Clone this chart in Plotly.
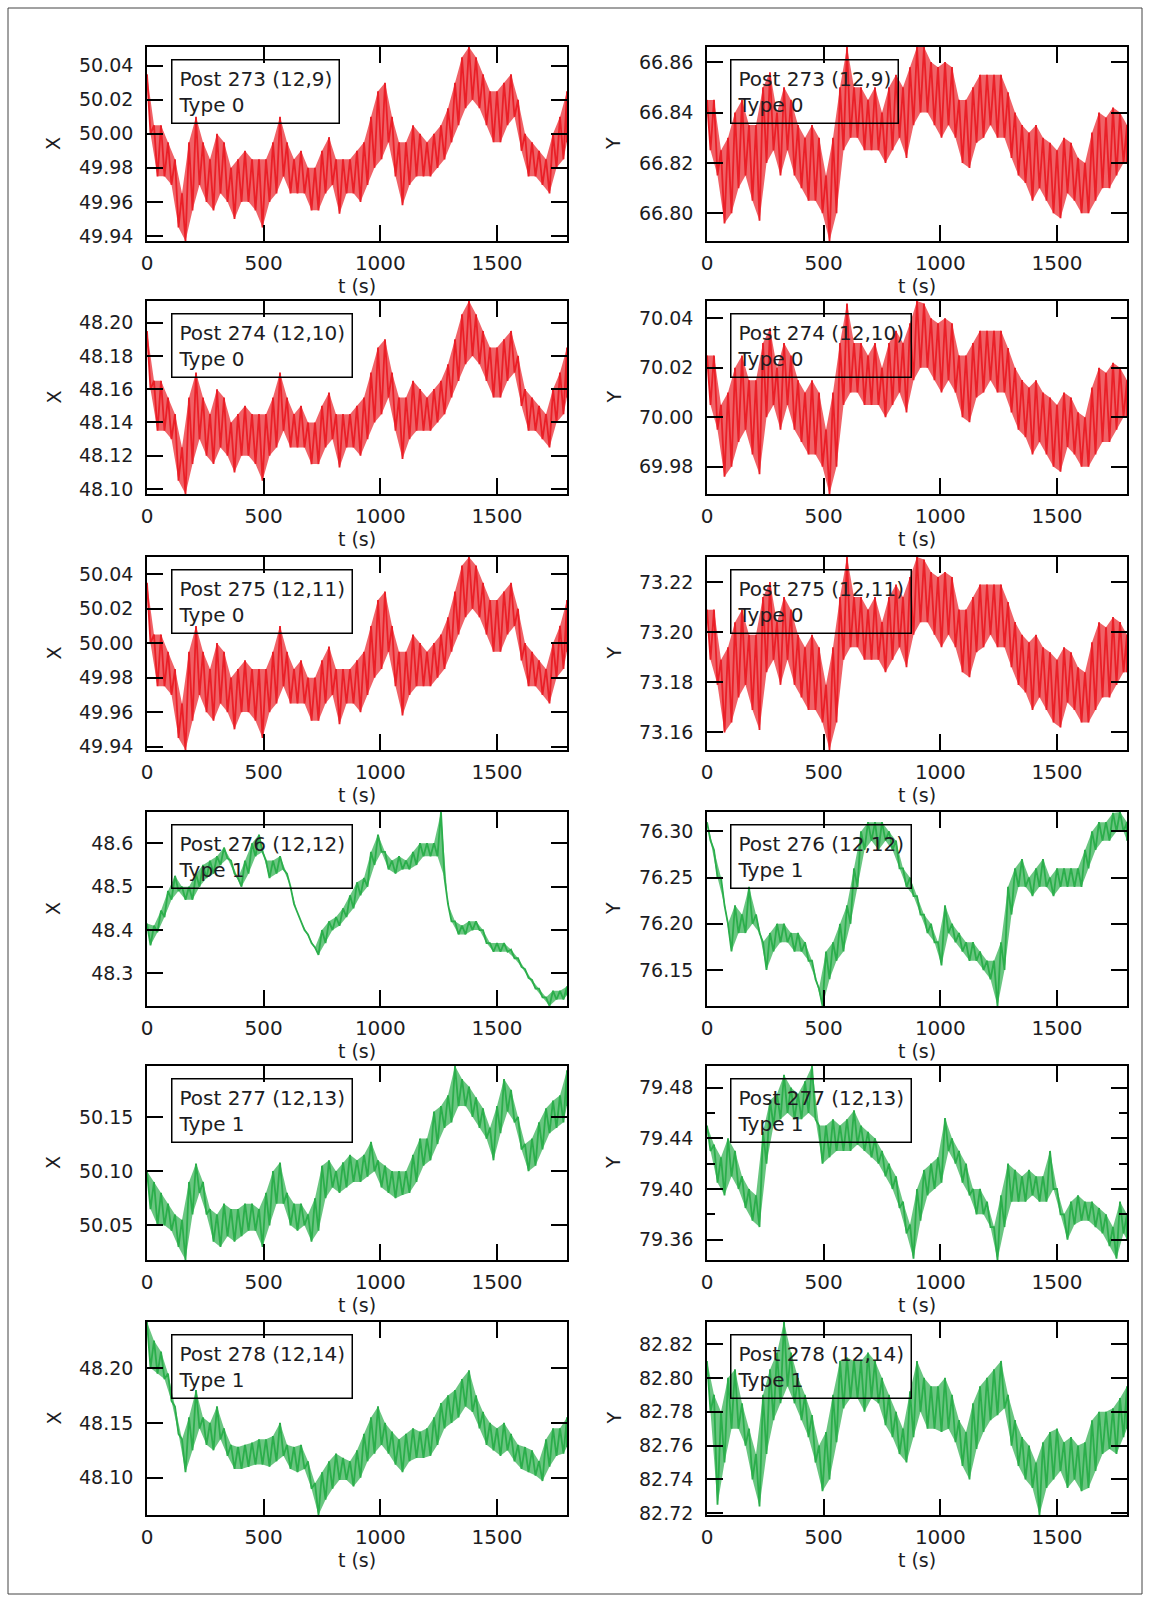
import plotly.graph_objects as go

W, H = 1150, 1602

# Time grid (s). At every grid time the trace's local high is recorded,
# and the local low half a step later.
t_grid = list(range(0, 1801, 30))
x_ticks = [0, 500, 1000, 1500]

# ---- Type 0 posts: X ----
x273_hi = [50.035, 50.005, 50.005, 49.995, 49.985, 49.965, 49.995, 50.010, 49.995, 49.985,
           50.000, 49.995, 49.980, 49.985, 49.990, 49.985, 49.985, 49.985, 49.995, 50.010,
           49.995, 49.985, 49.990, 49.980, 49.980, 49.990, 49.998, 49.985, 49.985, 49.985,
           49.990, 49.995, 50.010, 50.025, 50.030, 50.010, 49.995, 49.995, 50.005, 50.000,
           49.995, 50.000, 50.005, 50.015, 50.030, 50.045, 50.051, 50.045, 50.035, 50.025,
           50.025, 50.030, 50.035, 50.020, 50.000, 49.995, 49.990, 49.985, 50.000, 50.010,
           50.025]
x273_lo = [50.000, 49.975, 49.975, 49.970, 49.945, 49.937, 49.955, 49.970, 49.960, 49.955,
           49.965, 49.960, 49.950, 49.960, 49.960, 49.955, 49.945, 49.960, 49.965, 49.975,
           49.965, 49.965, 49.965, 49.955, 49.955, 49.965, 49.970, 49.953, 49.965, 49.965,
           49.960, 49.970, 49.980, 49.985, 49.995, 49.975, 49.958, 49.970, 49.975, 49.975,
           49.975, 49.980, 49.985, 49.995, 50.005, 50.015, 50.020, 50.015, 50.005, 49.995,
           49.995, 50.005, 50.010, 49.990, 49.975, 49.975, 49.970, 49.965, 49.980, 49.985,
           49.995]

x274_hi = [48.195, 48.165, 48.165, 48.155, 48.145, 48.125, 48.155, 48.170, 48.155, 48.145,
           48.160, 48.155, 48.140, 48.145, 48.150, 48.145, 48.145, 48.145, 48.155, 48.170,
           48.155, 48.145, 48.150, 48.140, 48.140, 48.150, 48.158, 48.145, 48.145, 48.145,
           48.150, 48.155, 48.170, 48.185, 48.190, 48.170, 48.155, 48.155, 48.165, 48.160,
           48.155, 48.160, 48.165, 48.175, 48.190, 48.205, 48.213, 48.205, 48.195, 48.185,
           48.185, 48.190, 48.195, 48.180, 48.160, 48.155, 48.150, 48.145, 48.160, 48.170,
           48.185]
x274_lo = [48.160, 48.135, 48.135, 48.130, 48.105, 48.097, 48.115, 48.130, 48.120, 48.115,
           48.125, 48.120, 48.110, 48.120, 48.120, 48.115, 48.105, 48.120, 48.125, 48.135,
           48.125, 48.125, 48.125, 48.115, 48.115, 48.125, 48.130, 48.113, 48.125, 48.125,
           48.120, 48.130, 48.140, 48.145, 48.155, 48.135, 48.118, 48.130, 48.135, 48.135,
           48.135, 48.140, 48.145, 48.155, 48.165, 48.175, 48.180, 48.175, 48.165, 48.155,
           48.155, 48.165, 48.170, 48.150, 48.135, 48.135, 48.130, 48.125, 48.140, 48.145,
           48.155]

x275_hi = [50.035, 50.005, 50.005, 49.995, 49.985, 49.965, 49.995, 50.010, 49.995, 49.985,
           50.000, 49.995, 49.980, 49.985, 49.990, 49.985, 49.985, 49.985, 49.995, 50.010,
           49.995, 49.985, 49.990, 49.980, 49.980, 49.990, 49.998, 49.985, 49.985, 49.985,
           49.990, 49.995, 50.010, 50.025, 50.030, 50.010, 49.995, 49.995, 50.005, 50.000,
           49.995, 50.000, 50.005, 50.015, 50.030, 50.045, 50.050, 50.045, 50.035, 50.025,
           50.025, 50.030, 50.035, 50.020, 50.000, 49.995, 49.990, 49.985, 50.000, 50.010,
           50.025]
x275_lo = [50.000, 49.975, 49.975, 49.970, 49.945, 49.938, 49.955, 49.970, 49.960, 49.955,
           49.965, 49.960, 49.950, 49.960, 49.960, 49.955, 49.945, 49.960, 49.965, 49.975,
           49.965, 49.965, 49.965, 49.955, 49.955, 49.965, 49.970, 49.953, 49.965, 49.965,
           49.960, 49.970, 49.980, 49.985, 49.995, 49.975, 49.958, 49.970, 49.975, 49.975,
           49.975, 49.980, 49.985, 49.995, 50.005, 50.015, 50.020, 50.015, 50.005, 49.995,
           49.995, 50.005, 50.010, 49.990, 49.975, 49.975, 49.970, 49.965, 49.980, 49.985,
           49.995]

# ---- Type 0 posts: Y ----
y273_hi = [66.845, 66.845, 66.825, 66.830, 66.840, 66.845, 66.835, 66.835, 66.850, 66.856,
           66.840, 66.850, 66.845, 66.835, 66.830, 66.835, 66.830, 66.815, 66.830, 66.850,
           66.866, 66.850, 66.850, 66.845, 66.850, 66.840, 66.850, 66.855, 66.850, 66.858,
           66.866, 66.866, 66.860, 66.858, 66.860, 66.858, 66.845, 66.845, 66.850, 66.855,
           66.855, 66.855, 66.855, 66.848, 66.840, 66.835, 66.832, 66.835, 66.830, 66.828,
           66.825, 66.830, 66.828, 66.822, 66.820, 66.832, 66.840, 66.838, 66.842, 66.840,
           66.835]
y273_lo = [66.825, 66.815, 66.796, 66.800, 66.810, 66.815, 66.805, 66.797, 66.820, 66.825,
           66.815, 66.825, 66.815, 66.810, 66.805, 66.805, 66.800, 66.789, 66.800, 66.825,
           66.830, 66.830, 66.825, 66.825, 66.825, 66.820, 66.825, 66.830, 66.822, 66.835,
           66.840, 66.840, 66.835, 66.830, 66.835, 66.830, 66.820, 66.818, 66.828, 66.830,
           66.835, 66.830, 66.830, 66.822, 66.815, 66.812, 66.805, 66.810, 66.805, 66.800,
           66.798, 66.808, 66.805, 66.800, 66.800, 66.805, 66.810, 66.810, 66.815, 66.820,
           66.820]

y274_hi = [70.025, 70.025, 70.005, 70.010, 70.020, 70.025, 70.015, 70.015, 70.030, 70.036,
           70.020, 70.030, 70.025, 70.015, 70.010, 70.015, 70.010, 69.995, 70.010, 70.030,
           70.046, 70.030, 70.030, 70.025, 70.030, 70.020, 70.030, 70.035, 70.030, 70.038,
           70.047, 70.046, 70.040, 70.038, 70.040, 70.038, 70.025, 70.025, 70.030, 70.035,
           70.035, 70.035, 70.035, 70.028, 70.020, 70.015, 70.012, 70.015, 70.010, 70.008,
           70.005, 70.010, 70.008, 70.002, 70.000, 70.012, 70.020, 70.018, 70.022, 70.020,
           70.015]
y274_lo = [70.005, 69.995, 69.976, 69.980, 69.990, 69.995, 69.985, 69.977, 70.000, 70.005,
           69.995, 70.005, 69.995, 69.990, 69.985, 69.985, 69.980, 69.969, 69.980, 70.005,
           70.010, 70.010, 70.005, 70.005, 70.005, 70.000, 70.005, 70.010, 70.002, 70.015,
           70.020, 70.020, 70.015, 70.010, 70.015, 70.010, 70.000, 69.998, 70.008, 70.010,
           70.015, 70.010, 70.010, 70.002, 69.995, 69.992, 69.985, 69.990, 69.985, 69.980,
           69.978, 69.988, 69.985, 69.980, 69.980, 69.985, 69.990, 69.990, 69.995, 70.000,
           70.000]

y275_hi = [73.209, 73.209, 73.189, 73.194, 73.204, 73.209, 73.199, 73.199, 73.214, 73.220,
           73.204, 73.214, 73.209, 73.199, 73.194, 73.199, 73.194, 73.179, 73.194, 73.214,
           73.230, 73.214, 73.214, 73.209, 73.214, 73.204, 73.214, 73.219, 73.214, 73.222,
           73.230, 73.229, 73.224, 73.222, 73.224, 73.222, 73.209, 73.209, 73.214, 73.219,
           73.219, 73.219, 73.219, 73.212, 73.204, 73.199, 73.196, 73.199, 73.194, 73.192,
           73.189, 73.194, 73.192, 73.186, 73.184, 73.196, 73.204, 73.202, 73.206, 73.204,
           73.199]
y275_lo = [73.189, 73.179, 73.160, 73.164, 73.174, 73.179, 73.169, 73.161, 73.184, 73.189,
           73.179, 73.189, 73.179, 73.174, 73.169, 73.169, 73.164, 73.153, 73.164, 73.189,
           73.194, 73.194, 73.189, 73.189, 73.189, 73.184, 73.189, 73.194, 73.186, 73.199,
           73.204, 73.204, 73.199, 73.194, 73.199, 73.194, 73.184, 73.182, 73.192, 73.194,
           73.199, 73.194, 73.194, 73.186, 73.179, 73.176, 73.169, 73.174, 73.169, 73.164,
           73.162, 73.172, 73.169, 73.164, 73.164, 73.169, 73.174, 73.174, 73.179, 73.184,
           73.184]

# ---- Type 1 posts: X ----
x276_hi = [48.415, 48.410, 48.445, 48.490, 48.525, 48.500, 48.500, 48.530, 48.550, 48.560,
           48.570, 48.590, 48.560, 48.520, 48.560, 48.600, 48.620, 48.560, 48.560, 48.570,
           48.530, 48.460, 48.420, 48.390, 48.360, 48.400, 48.420, 48.430, 48.450, 48.480,
           48.510, 48.520, 48.580, 48.620, 48.580, 48.560, 48.570, 48.560, 48.580, 48.600,
           48.600, 48.600, 48.672, 48.460, 48.420, 48.410, 48.420, 48.420, 48.400, 48.370,
           48.370, 48.370, 48.355, 48.335, 48.310, 48.285, 48.265, 48.245, 48.260, 48.260,
           48.270]
x276_lo = [48.365, 48.395, 48.430, 48.470, 48.490, 48.470, 48.470, 48.500, 48.520, 48.530,
           48.550, 48.565, 48.530, 48.500, 48.530, 48.570, 48.580, 48.520, 48.530, 48.540,
           48.500, 48.440, 48.400, 48.370, 48.343, 48.370, 48.400, 48.410, 48.430, 48.450,
           48.480, 48.500, 48.550, 48.580, 48.540, 48.530, 48.540, 48.540, 48.550, 48.570,
           48.570, 48.570, 48.520, 48.420, 48.390, 48.390, 48.400, 48.400, 48.370, 48.350,
           48.350, 48.350, 48.335, 48.315, 48.290, 48.265, 48.245, 48.225, 48.240, 48.240,
           48.250]

x277_hi = [50.100, 50.090, 50.080, 50.070, 50.060, 50.055, 50.090, 50.107, 50.090, 50.065,
           50.060, 50.070, 50.065, 50.065, 50.070, 50.070, 50.065, 50.080, 50.100, 50.108,
           50.080, 50.070, 50.070, 50.060, 50.075, 50.105, 50.110, 50.100, 50.108, 50.115,
           50.110, 50.115, 50.127, 50.110, 50.105, 50.100, 50.100, 50.100, 50.115, 50.130,
           50.130, 50.155, 50.160, 50.170, 50.197, 50.185, 50.178, 50.168, 50.158, 50.140,
           50.160, 50.185, 50.175, 50.150, 50.125, 50.130, 50.145, 50.158, 50.165, 50.170,
           50.193]
x277_lo = [50.065, 50.050, 50.050, 50.045, 50.030, 50.018, 50.060, 50.080, 50.060, 50.035,
           50.030, 50.040, 50.035, 50.040, 50.045, 50.045, 50.030, 50.050, 50.070, 50.070,
           50.050, 50.045, 50.050, 50.035, 50.045, 50.075, 50.085, 50.080, 50.085, 50.090,
           50.090, 50.095, 50.100, 50.085, 50.080, 50.075, 50.078, 50.080, 50.090, 50.105,
           50.110, 50.125, 50.140, 50.145, 50.160, 50.160, 50.150, 50.140, 50.130, 50.110,
           50.135, 50.155, 50.145, 50.120, 50.100, 50.105, 50.120, 50.135, 50.140, 50.145,
           50.160]

x278_hi = [48.242, 48.225, 48.215, 48.195, 48.165, 48.135, 48.155, 48.180, 48.155, 48.150,
           48.165, 48.145, 48.130, 48.128, 48.130, 48.132, 48.135, 48.135, 48.138, 48.150,
           48.130, 48.128, 48.130, 48.115, 48.095, 48.105, 48.115, 48.122, 48.118, 48.115,
           48.125, 48.140, 48.155, 48.165, 48.150, 48.142, 48.135, 48.140, 48.145, 48.142,
           48.145, 48.155, 48.168, 48.175, 48.180, 48.190, 48.198, 48.175, 48.160, 48.150,
           48.145, 48.150, 48.140, 48.130, 48.128, 48.125, 48.115, 48.135, 48.145, 48.145,
           48.155]
x278_lo = [48.200, 48.195, 48.190, 48.170, 48.140, 48.105, 48.125, 48.145, 48.130, 48.125,
           48.135, 48.120, 48.108, 48.108, 48.110, 48.112, 48.112, 48.110, 48.115, 48.120,
           48.108, 48.105, 48.108, 48.090, 48.066, 48.080, 48.090, 48.098, 48.098, 48.092,
           48.100, 48.115, 48.122, 48.130, 48.122, 48.112, 48.105, 48.115, 48.118, 48.118,
           48.120, 48.130, 48.145, 48.150, 48.155, 48.165, 48.160, 48.145, 48.130, 48.125,
           48.120, 48.125, 48.115, 48.108, 48.105, 48.102, 48.097, 48.110, 48.120, 48.122,
           48.128]

# ---- Type 1 posts: Y ----
y276_hi = [76.310, 76.280, 76.250, 76.200, 76.220, 76.210, 76.240, 76.210, 76.180, 76.190,
           76.200, 76.200, 76.190, 76.190, 76.180, 76.160, 76.130, 76.170, 76.180, 76.200,
           76.220, 76.260, 76.300, 76.310, 76.310, 76.310, 76.300, 76.290, 76.260, 76.250,
           76.230, 76.210, 76.200, 76.180, 76.220, 76.200, 76.190, 76.180, 76.180, 76.170,
           76.160, 76.160, 76.180, 76.240, 76.260, 76.270, 76.250, 76.260, 76.270, 76.250,
           76.260, 76.260, 76.260, 76.260, 76.280, 76.300, 76.310, 76.310, 76.320, 76.321,
           76.310]
y276_lo = [76.290, 76.250, 76.220, 76.170, 76.190, 76.190, 76.200, 76.190, 76.150, 76.170,
           76.180, 76.180, 76.170, 76.170, 76.160, 76.140, 76.111, 76.140, 76.160, 76.170,
           76.200, 76.240, 76.280, 76.290, 76.280, 76.290, 76.280, 76.260, 76.240, 76.230,
           76.210, 76.190, 76.180, 76.155, 76.190, 76.180, 76.170, 76.160, 76.160, 76.150,
           76.140, 76.111, 76.150, 76.210, 76.240, 76.240, 76.230, 76.240, 76.240, 76.230,
           76.240, 76.240, 76.240, 76.240, 76.260, 76.280, 76.290, 76.290, 76.300, 76.300,
           76.290]

y277_hi = [79.450, 79.435, 79.425, 79.440, 79.430, 79.410, 79.400, 79.395, 79.445, 79.470,
           79.475, 79.490, 79.480, 79.475, 79.485, 79.497, 79.450, 79.450, 79.455, 79.450,
           79.455, 79.462, 79.450, 79.445, 79.440, 79.430, 79.420, 79.410, 79.390, 79.372,
           79.400, 79.415, 79.420, 79.425, 79.456, 79.440, 79.430, 79.420, 79.400, 79.400,
           79.390, 79.370, 79.395, 79.420, 79.415, 79.410, 79.415, 79.410, 79.410, 79.430,
           79.400, 79.380, 79.390, 79.395, 79.390, 79.390, 79.385, 79.380, 79.370, 79.390,
           79.380]
y277_lo = [79.430, 79.405, 79.395, 79.410, 79.400, 79.385, 79.375, 79.370, 79.420, 79.450,
           79.455, 79.460, 79.455, 79.455, 79.460, 79.455, 79.420, 79.425, 79.430, 79.430,
           79.430, 79.435, 79.430, 79.425, 79.420, 79.410, 79.400, 79.385, 79.365, 79.345,
           79.375, 79.395, 79.400, 79.405, 79.430, 79.420, 79.405, 79.395, 79.380, 79.380,
           79.370, 79.344, 79.370, 79.390, 79.390, 79.390, 79.395, 79.390, 79.390, 79.400,
           79.380, 79.360, 79.372, 79.375, 79.375, 79.370, 79.365, 79.355, 79.345, 79.365,
           79.360]

y278_hi = [82.810, 82.790, 82.780, 82.800, 82.805, 82.785, 82.770, 82.755, 82.790, 82.805,
           82.815, 82.833, 82.815, 82.800, 82.790, 82.778, 82.760, 82.768, 82.790, 82.810,
           82.812, 82.810, 82.810, 82.815, 82.810, 82.800, 82.790, 82.780, 82.770, 82.792,
           82.810, 82.800, 82.795, 82.795, 82.800, 82.790, 82.775, 82.768, 82.785, 82.795,
           82.800, 82.805, 82.810, 82.790, 82.775, 82.765, 82.760, 82.750, 82.762, 82.768,
           82.770, 82.762, 82.765, 82.760, 82.762, 82.775, 82.780, 82.780, 82.782, 82.788,
           82.795]
y278_lo = [82.780, 82.725, 82.750, 82.770, 82.770, 82.760, 82.740, 82.724, 82.755, 82.775,
           82.785, 82.795, 82.785, 82.775, 82.765, 82.750, 82.733, 82.740, 82.762, 82.782,
           82.788, 82.788, 82.780, 82.788, 82.785, 82.772, 82.765, 82.755, 82.750, 82.765,
           82.780, 82.770, 82.770, 82.768, 82.770, 82.762, 82.748, 82.740, 82.758, 82.768,
           82.775, 82.778, 82.782, 82.760, 82.748, 82.740, 82.735, 82.719, 82.735, 82.740,
           82.745, 82.735, 82.740, 82.733, 82.735, 82.745, 82.755, 82.758, 82.755, 82.765,
           82.770]

posts = ["273", "273", "274", "274", "275", "275", "276", "276", "277", "277", "278", "278"]
grid_pos = ["(12,9)", "(12,9)", "(12,10)", "(12,10)", "(12,11)", "(12,11)",
            "(12,12)", "(12,12)", "(12,13)", "(12,13)", "(12,14)", "(12,14)"]
post_type = [0, 0, 0, 0, 0, 0, 1, 1, 1, 1, 1, 1]
coord = ["X", "Y"] * 6
highs = [x273_hi, y273_hi, x274_hi, y274_hi, x275_hi, y275_hi,
         x276_hi, y276_hi, x277_hi, y277_hi, x278_hi, y278_hi]
lows = [x273_lo, y273_lo, x274_lo, y274_lo, x275_lo, y275_lo,
        x276_lo, y276_lo, x277_lo, y277_lo, x278_lo, y278_lo]
y_dtick = [0.02, 0.02, 0.02, 0.02, 0.02, 0.02, 0.1, 0.05, 0.05, 0.04, 0.05, 0.02]
y_fmt = [".2f", ".2f", ".2f", ".2f", ".2f", ".2f", ".1f", ".2f", ".2f", ".2f", ".2f", ".2f"]

# ---- styling / layout ----
FONT = "DejaVu Sans"
INK = "#1c1c22"
TYPE_COLOR = {0: "#EA1F27", 1: "#2BAE4B"}
TYPE_FILL = {0: "rgba(234,31,39,0.70)", 1: "rgba(43,174,75,0.70)"}
COL_PX = [(147, 567), (707, 1127)]
ROW_PX = [(47, 241), (301, 494), (557, 750), (812, 1006), (1066, 1260), (1322, 1515)]

frame = dict(showline=True, linecolor="black", linewidth=1.5, mirror="ticks",
             ticks="inside", ticklen=16, tickwidth=1.5, tickcolor="black",
             showgrid=False, zeroline=False, automargin=False)

fig = go.Figure()
annotations = []
layout = {}

for k in range(12):
    n = k + 1
    r, c = divmod(k, 2)
    x0, x1 = COL_PX[c]
    y0, y1 = ROW_PX[r]
    sfx = "" if n == 1 else str(n)
    color = TYPE_COLOR[post_type[k]]

    t_lo = [min(t + 15, t_grid[-1]) for t in t_grid]

    # envelope of the noisy trace
    fig.add_trace(go.Scatter(
        x=t_grid + t_lo[::-1], y=highs[k] + lows[k][::-1],
        mode="lines", fill="toself", fillcolor=TYPE_FILL[post_type[k]],
        line=dict(width=0), xaxis="x" + sfx, yaxis="y" + sfx,
        showlegend=False, hoverinfo="skip"))

    # the trace itself, alternating between local highs and lows
    xs, ys = [], []
    for t, tl, h, l in zip(t_grid, t_lo, highs[k], lows[k]):
        xs += [t, tl]
        ys += [h, l]
    fig.add_trace(go.Scatter(
        x=xs, y=ys, mode="lines", line=dict(color=color, width=1.8),
        xaxis="x" + sfx, yaxis="y" + sfx, showlegend=False, hoverinfo="skip"))

    layout["xaxis" + sfx] = dict(
        domain=[x0 / W, x1 / W], range=[t_grid[0], t_grid[-1]], anchor="y" + sfx,
        tickvals=x_ticks, tickfont=dict(size=20, family=FONT, color=INK),
        ticklabelstandoff=3,
        title=dict(text="t (s)", font=dict(size=19, family=FONT, color=INK), standoff=2),
        **frame)

    yaxis = dict(
        domain=[1 - y1 / H, 1 - y0 / H], anchor="x" + sfx,
        range=[min(lows[k]), max(highs[k])],
        tick0=0, dtick=y_dtick[k], tickformat=y_fmt[k],
        tickfont=dict(size=19, family=FONT, color=INK), ticklabelstandoff=8,
        **frame)
    if n == 10:
        yaxis["minor"] = dict(dtick=0.02, ticks="inside", ticklen=8,
                              tickwidth=1.5, tickcolor="black")
    layout["yaxis" + sfx] = yaxis

    # axis name at the left of each panel
    annotations.append(dict(
        xref="paper", yref="paper", x=(x0 - 94) / W, y=1 - (y0 + y1) / 2 / H,
        text=coord[k], textangle=-90, showarrow=False, xanchor="center", yanchor="middle",
        font=dict(size=19, family=FONT, color=INK)))

    # post label box
    annotations.append(dict(
        xref=f"x{sfx} domain", yref=f"y{sfx} domain",
        x=(24 if c == 0 else 23) / (x1 - x0), y=1 - 12 / (y1 - y0),
        xanchor="left", yanchor="top", align="left", showarrow=False,
        text=f"Post {posts[k]} {grid_pos[k]}<br>Type {post_type[k]}",
        bordercolor="black", borderwidth=1.5, borderpad=6,
        font=dict(size=20, family=FONT, color=INK)))

fig.update_layout(
    width=W, height=H, margin=dict(l=0, r=0, t=0, b=0, autoexpand=False),
    paper_bgcolor="white", plot_bgcolor="white",
    showlegend=False, annotations=annotations,
    shapes=[dict(type="rect", xref="paper", yref="paper",
                 x0=8 / W, x1=1142 / W, y0=1 - 1594 / H, y1=1 - 8 / H,
                 line=dict(color="#444444", width=1))],
    **layout)

fig.write_html("out.html")
